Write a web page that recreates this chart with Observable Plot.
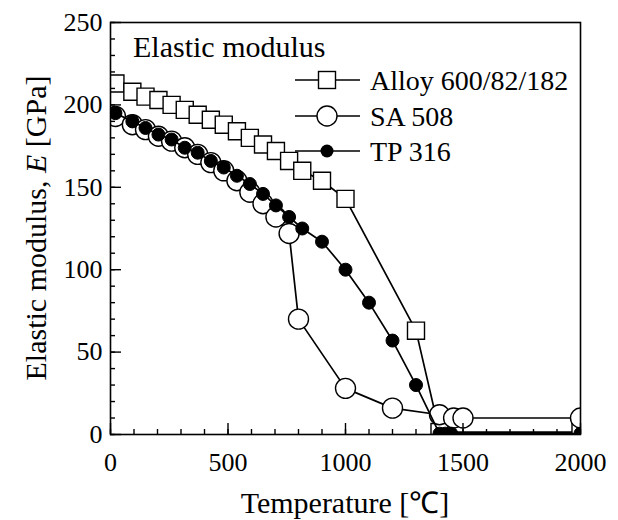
<!DOCTYPE html>
<html><head><meta charset="utf-8">
<script src="https://cdn.jsdelivr.net/npm/d3@7"></script>
<script src="https://cdn.jsdelivr.net/npm/@observablehq/plot@0.6"></script>
<style>body{margin:0;background:#fff} svg{display:block}</style>
</head><body><div id="chart"></div>
<script>
// Alloy 600/82/182
const alloyT = [21, 93, 149, 204, 260, 316, 371, 427, 482, 538, 593, 649, 704, 760, 816, 900, 1000, 1300, 1400, 2000];
const alloyE = [213, 208, 205, 203, 200, 197, 194, 191, 188, 184, 180, 176, 172, 166, 160, 154, 143, 63, 1.5, 1.5];
// SA 508
const saT = [21, 93, 149, 204, 260, 316, 371, 427, 482, 538, 593, 649, 704, 760, 800, 1000, 1200, 1400, 1460, 1500, 2000];
const saE = [193, 188, 185, 181, 178, 174, 170, 165, 160, 154, 147, 140, 132, 122, 70, 28, 16, 12, 10, 10, 10];
// TP 316
const tpT = [21, 93, 149, 204, 260, 316, 371, 427, 482, 538, 593, 649, 704, 760, 816, 900, 1000, 1100, 1200, 1300, 1400, 1425, 1450, 2000];
const tpE = [195, 190, 186, 182, 179, 174, 171, 166, 162, 157, 152, 146, 139, 132, 125, 117, 100, 80, 57, 30, 0.5, 0.5, 0.5, 0.5];

const seriesNames = ["Alloy 600/82/182", "SA 508", "TP 316"];
const xMajor = [0, 500, 1000, 1500, 2000];
const xMinor = d3.range(0, 2001, 100);
const yMajor = [0, 50, 100, 150, 200, 250];
const yMinor = d3.range(0, 251, 10);

const font = "'Liberation Serif', 'Times New Roman', serif";
const rows = (T, E) => T.map((t, i) => ({t, e: E[i]}));
const alloy = rows(alloyT, alloyE);
const sa = rows(saT, saE);
const tp = rows(tpT, tpE);

const ML = 110, MR = 38, MT = 22, MB = 86, W = 618, H = 520;

const chart = Plot.plot({
  width: W, height: H,
  marginLeft: ML, marginRight: MR, marginTop: MT, marginBottom: MB,
  style: {fontFamily: font, fontSize: "26px", color: "#000", background: "#fff", overflow: "visible"},
  x: {domain: [0, 2000]},
  y: {domain: [0, 250]},
  marks: [
    Plot.line(alloy, {x: "t", y: "e", stroke: "#000", strokeWidth: 1.7, clip: "frame"}),
    Plot.dot(alloy, {x: "t", y: "e", symbol: "square", r: 9.6, fill: "#fff", stroke: "#000", strokeWidth: 1.4, clip: "frame"}),
    Plot.line(sa, {x: "t", y: "e", stroke: "#000", strokeWidth: 1.7, clip: "frame"}),
    Plot.dot(sa, {x: "t", y: "e", r: 10, fill: "#fff", stroke: "#000", strokeWidth: 1.4, clip: "frame"}),
    Plot.line(tp, {x: "t", y: "e", stroke: "#000", strokeWidth: 1.7, clip: "frame"}),
    Plot.dot(tp, {x: "t", y: "e", r: 6.5, fill: "#000", stroke: "#000", strokeWidth: 1, clip: "frame"}),
    Plot.axisX({ticks: xMinor, tickSize: -5, tickFormat: () => "", label: null, strokeWidth: 1.4}),
    Plot.axisX({ticks: xMajor, tickSize: -11, tickFormat: () => "", label: null, strokeWidth: 1.4}),
    Plot.axisX({ticks: xMajor, tickSize: 0, tickPadding: 18, tickFormat: d => String(d), label: null, fontSize: 26}),
    Plot.axisY({ticks: yMinor, tickSize: -5, tickFormat: () => "", label: null, strokeWidth: 1.4}),
    Plot.axisY({ticks: yMajor, tickSize: 0 - 11, tickFormat: () => "", label: null, strokeWidth: 1.4}),
    Plot.axisY({ticks: yMajor, tickSize: 0, tickPadding: 8, tickFormat: d => String(d), label: null, fontSize: 26}),
    Plot.frame({stroke: "#000", strokeWidth: 1.6})
  ]
});

document.getElementById("chart").appendChild(chart);
const svg = d3.select(chart);

// Axis titles
svg.append("text")
  .attr("x", ML + (W - ML - MR) / 2).attr("y", 513)
  .attr("text-anchor", "middle").attr("font-family", font).attr("font-size", 30)
  .text("Temperature [℃]");
const yt = svg.append("text")
  .attr("transform", `translate(46,${MT + (H - MT - MB) / 2}) rotate(-90)`)
  .attr("text-anchor", "middle").attr("font-family", font).attr("font-size", 30);
yt.append("tspan").text("Elastic modulus, ");
yt.append("tspan").attr("font-style", "italic").text("E");
yt.append("tspan").text(" [GPa]");

// Legend
svg.append("text").attr("x", 133).attr("y", 57).attr("text-anchor", "start")
  .attr("font-family", font).attr("font-size", 30).text("Elastic modulus");
const legendY = [80, 116, 151];
const lx0 = 295, lx1 = 360, lm = 327, tx = 370;
seriesNames.forEach((name, i) => {
  const y = legendY[i];
  svg.append("line").attr("x1", lx0).attr("x2", lx1).attr("y1", y).attr("y2", y)
    .attr("stroke", "#000").attr("stroke-width", 1.7);
  if (i === 0) {
    svg.append("rect").attr("x", lm - 8.5).attr("y", y - 8.5).attr("width", 17).attr("height", 17)
      .attr("fill", "#fff").attr("stroke", "#000").attr("stroke-width", 1.4);
  } else if (i === 1) {
    svg.append("circle").attr("cx", lm).attr("cy", y).attr("r", 10)
      .attr("fill", "#fff").attr("stroke", "#000").attr("stroke-width", 1.4);
  } else {
    svg.append("circle").attr("cx", lm).attr("cy", y).attr("r", 6.5).attr("fill", "#000");
  }
  svg.append("text").attr("x", tx).attr("y", y + 10).attr("text-anchor", "start")
    .attr("font-family", font).attr("font-size", 28).text(name);
});
</script>
</body></html>
